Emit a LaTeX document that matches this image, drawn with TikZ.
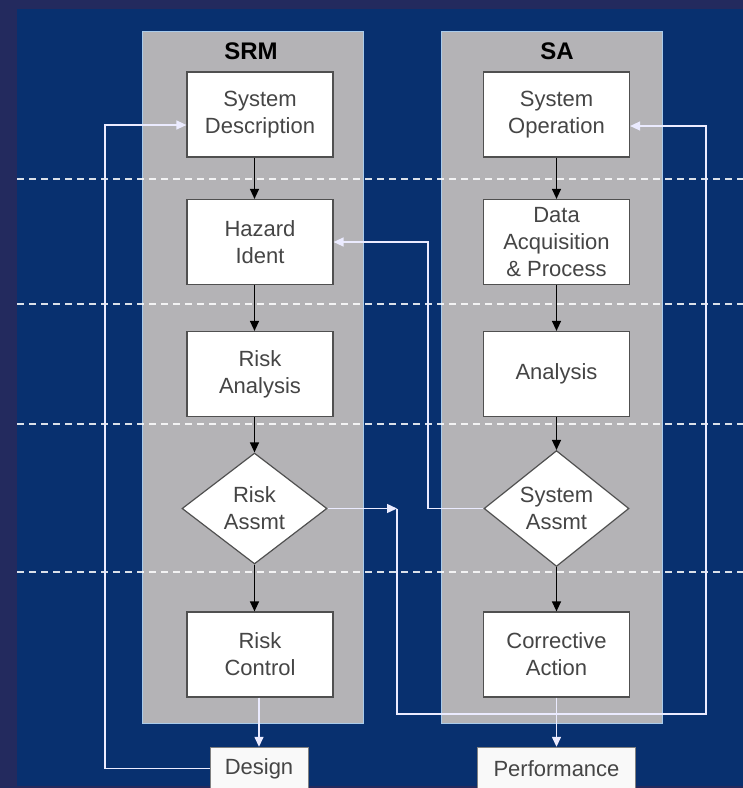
\documentclass[tikz,border=0pt]{standalone}
\usepackage{fontspec}
\setmainfont{Liberation Sans}
\usepackage{xcolor}
\usepackage{tikz}
\usetikzlibrary{shapes,arrows.meta}
\definecolor{frameblue}{HTML}{232A5E}
\definecolor{deepblue}{HTML}{08306F}
\definecolor{panelgray}{HTML}{B4B3B6}
\definecolor{panelline}{HTML}{A9CBEB}
\definecolor{boxline}{HTML}{505050}
\definecolor{boxtext}{HTML}{454545}
\tikzset{blk/.style={rectangle,draw=boxline,fill=white,line width=1.2pt,minimum width=146pt,minimum height=85pt,inner sep=0pt,align=center,text=boxtext,font=\fontsize{22}{27}\selectfont}}
\tikzset{dmd/.style={diamond,draw=boxline,fill=white,line width=1.2pt,minimum width=145pt,minimum height=111pt,inner sep=0pt,align=center,text=boxtext,font=\fontsize{22}{27}\selectfont}}
\tikzset{pnl/.style={rectangle,draw=panelline,fill=panelgray,line width=1pt,minimum width=221pt,minimum height=692pt,inner sep=0pt}}
\tikzset{outbox/.style={rectangle,draw=gray,fill=white!95!gray,minimum height=43pt,inner sep=0pt,text=boxtext,font=\fontsize{22}{27}\selectfont}}
\tikzset{flow/.style={->,black,line width=1.3pt}}
\tikzset{wire/.style={->,draw=white!92!blue,line width=1.4pt}}
\tikzset{sep/.style={white,opacity=0.85,line width=1.4pt,dash pattern=on 7pt off 5pt}}

\begin{document}
\begin{tikzpicture}[>={Stealth[length=10pt,width=9pt,inset=0pt]},x=1pt,y=-1pt]
    \useasboundingbox (0,0) rectangle (743,788);
    \fill[frameblue] (0,0) rectangle (743,788);
    \fill[deepblue] (17,9) rectangle (743,786);

    % the two columns
    \node[pnl] (srm)at (252.5,377) {};
    \node[pnl] (sa)at (552,377) {};
    \node[font=\bfseries\fontsize{24}{28}\selectfont] (srmtitle)at (251,51) {SRM};
    \node[font=\bfseries\fontsize{24}{28}\selectfont] (satitle)at (557,51) {SA};

    \draw [sep] (17,179) -- (743,179);
    \draw [sep] (17,304) -- (743,304);
    \draw [sep] (17,424) -- (743,424);
    \draw [sep] (17,572) -- (743,572);

    \node[blk] (desc)at (260,114.5) {System\\Description};
    \node[blk] (haz)at (260,242) {Hazard\\Ident};
    \node[blk] (ana)at (260,374) {Risk\\Analysis};
    \node[dmd] (rassmt)at (254.5,508.5) {Risk\\Assmt};
    \node[blk] (ctrl)at (260,654.5) {Risk\\Control};

    \node[blk] (oper)at (556.5,114.5) {System\\Operation};
    \node[blk] (acq)at (556.5,242) {Data\\Acquisition\\\& Process};
    \node[blk] (anl)at (556.5,374) {Analysis};
    \node[dmd] (sassmt)at (556.5,508.5) {System\\Assmt};
    \node[blk] (corr)at (556.5,654.5) {Corrective\\Action};

    \node[outbox,minimum width=98pt] (design)at (259,768.5) {Design};
    \node[outbox,minimum width=158pt] (perf)at (556.5,768.5) {Performance};

    \draw [flow] (desc.south -| rassmt) to (haz.north -| rassmt);
    \draw [flow] (haz.south -| rassmt) to (ana.north -| rassmt);
    \draw [flow] (ana.south -| rassmt) to (rassmt.north);
    \draw [flow] (rassmt.south) to (ctrl.north -| rassmt);
    \draw [flow] (oper) to (acq);
    \draw [flow] (acq) to (anl);
    \draw [flow] (anl) to (sassmt);
    \draw [flow] (sassmt) to (corr);

    % feedback loops
    \coordinate (k1) at (105,125);
    \coordinate (k2) at (397,508.5);
    \coordinate (k3) at (706,714);
    \coordinate (k4) at (706,126);
    \coordinate (k5) at (428,242);
    \draw [wire] (ctrl.south -| design) to (design.north);
    \draw [wire] (corr.south) to (perf.north);
    \draw [wire] (design.west) -| (k1) -- (k1 -| desc.west);
    \draw [wire] (rassmt.east) to (k2);
    \draw [wire] (k2) |- (k3) -- (k4) -- (k4 -| oper.east);
    \draw [wire] (sassmt.west) -| (k5) -- (haz.east);
\end{tikzpicture}
\end{document}
